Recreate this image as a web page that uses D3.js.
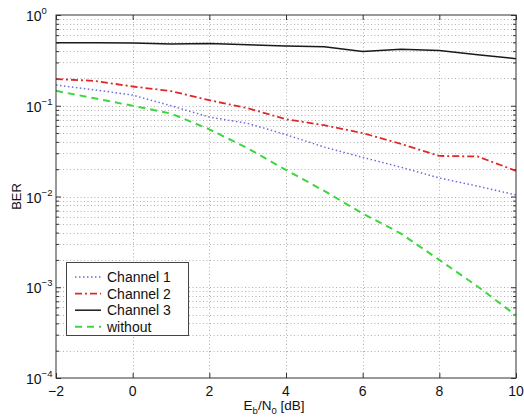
<!DOCTYPE html>
<html>
<head>
<meta charset="utf-8">
<script src="https://cdn.jsdelivr.net/npm/d3@7"></script>
<style>
  html, body { margin: 0; padding: 0; background: #fff; }
  svg { display: block; font-family: "Liberation Sans", Arial, Helvetica, sans-serif; }
</style>
</head>
<body>
<svg id="chart" width="524" height="420"></svg>
<script>
// Bit error rate versus Eb/N0 for three channels and the uncoded reference
const ebn0 = [-2, -1, 0, 1, 2, 3, 4, 5, 6, 7, 8, 9, 10];
const channel1 = [0.169, 0.150, 0.131, 0.100, 0.075, 0.064, 0.048, 0.035, 0.027, 0.021, 0.016, 0.013, 0.0104];
const channel2 = [0.197, 0.188, 0.163, 0.145, 0.115, 0.094, 0.071, 0.061, 0.050, 0.038, 0.028, 0.0276, 0.0192];
const channel3 = [0.495, 0.495, 0.49, 0.48, 0.485, 0.47, 0.455, 0.448, 0.395, 0.42, 0.405, 0.365, 0.33];
const without = [0.146, 0.121, 0.100, 0.082, 0.055, 0.034, 0.0196, 0.0115, 0.0065, 0.0039, 0.0020, 0.00102, 0.00049];

const seriesNames = ["Channel 1", "Channel 2", "Channel 3", "without"];
const xTicks = [-2, 0, 2, 4, 6, 8, 10];
const yExponents = [0, -1, -2, -3, -4];

const series = [
  { name: seriesNames[0], values: channel1, color: "#6b6bdc", dash: "1.5,2.5", width: 1.5 },
  { name: seriesNames[1], values: channel2, color: "#e02828", dash: "7,3,2,3", width: 1.8 },
  { name: seriesNames[2], values: channel3, color: "#1a1a1a", dash: null, width: 1.5 },
  { name: seriesNames[3], values: without, color: "#3ed63e", dash: "7,5", width: 2 }
];

const margin = { left: 56, right: 8, top: 15, bottom: 42 };
const W = 524, H = 420;
const svg = d3.select("#chart");

const x = d3.scaleLinear().domain([-2, 10]).range([margin.left, W - margin.right]);
const y = d3.scaleLog().domain([1e-4, 1]).range([H - margin.bottom, margin.top]);

// minor values 1..9 per decade
const yAll = [];
for (let e = -4; e < 0; e++) for (let k = 1; k <= 9; k++) yAll.push(k * Math.pow(10, e));
yAll.push(1);
const yMajor = yExponents.map(e => Math.pow(10, e));
const yMinor = yAll.filter(v => !yMajor.some(m => Math.abs(m - v) / m < 1e-9));

// grid
const grid = svg.append("g").attr("stroke", "#b0b0b0").attr("stroke-width", 1).attr("stroke-dasharray", "1,2.5");
grid.selectAll("line.h").data(yAll.filter(v => v > 1e-4 && v < 1)).join("line")
  .attr("x1", x(-2)).attr("x2", x(10))
  .attr("y1", d => Math.round(y(d)) + 0.5).attr("y2", d => Math.round(y(d)) + 0.5);
grid.selectAll("line.v").data(xTicks.filter(v => v > -2 && v < 10)).join("line")
  .attr("x1", d => Math.round(x(d)) + 0.5).attr("x2", d => Math.round(x(d)) + 0.5)
  .attr("y1", y(1)).attr("y2", y(1e-4));

// axes with inward ticks
const axisColor = "#333";
function styleAxis(g) {
  g.select(".domain").remove();
  g.selectAll(".tick line").attr("stroke", axisColor);
  g.selectAll(".tick text").remove();
}
svg.append("g").attr("transform", `translate(0,${y(1e-4)})`)
  .call(d3.axisBottom(x).tickValues(xTicks).tickSize(-5)).call(styleAxis);
svg.append("g").attr("transform", `translate(0,${y(1)})`)
  .call(d3.axisTop(x).tickValues(xTicks).tickSize(-5)).call(styleAxis);
svg.append("g").attr("transform", `translate(${x(-2)},0)`)
  .call(d3.axisLeft(y).tickValues(yMajor).tickSize(-5)).call(styleAxis);
svg.append("g").attr("transform", `translate(${x(-2)},0)`)
  .call(d3.axisLeft(y).tickValues(yMinor).tickSize(-3)).call(styleAxis);
svg.append("g").attr("transform", `translate(${x(10)},0)`)
  .call(d3.axisRight(y).tickValues(yMajor).tickSize(-5)).call(styleAxis);
svg.append("g").attr("transform", `translate(${x(10)},0)`)
  .call(d3.axisRight(y).tickValues(yMinor).tickSize(-3)).call(styleAxis);

// curves
const line = d3.line().x((d, i) => x(ebn0[i])).y(d => y(d));
const plot = svg.append("g");
series.forEach(s => {
  plot.append("path").datum(s.values)
    .attr("fill", "none")
    .attr("stroke", s.color)
    .attr("stroke-width", s.width)
    .attr("stroke-dasharray", s.dash)
    .attr("d", line);
});

// frame
svg.append("rect")
  .attr("x", x(-2)).attr("y", y(1))
  .attr("width", x(10) - x(-2)).attr("height", y(1e-4) - y(1))
  .attr("fill", "none").attr("stroke", axisColor).attr("stroke-width", 1);

// x tick labels
svg.append("g").selectAll("text").data(xTicks).join("text")
  .attr("x", d => x(d)).attr("y", y(1e-4) + 18)
  .attr("text-anchor", "middle").attr("font-size", 14).attr("fill", "#111")
  .text(d => d < 0 ? "\u2212" + Math.abs(d) : d);

// y tick labels as powers of ten
const yl = svg.append("g").selectAll("text").data(yExponents).join("text")
  .attr("x", 26).attr("y", d => y(Math.pow(10, d)) + 6)
  .attr("font-size", 14).attr("fill", "#111");
yl.append("tspan").text("10");
yl.append("tspan").attr("dy", -7).attr("font-size", 9.5)
  .text(d => d < 0 ? "\u2212" + Math.abs(d) : d);

// axis titles
svg.append("text")
  .attr("transform", `translate(21,${(y(1) + y(1e-4)) / 2}) rotate(-90)`)
  .attr("text-anchor", "middle").attr("font-size", 13).attr("fill", "#111")
  .text("BER");
const xt = svg.append("text")
  .attr("x", (x(-2) + x(10)) / 2 - 12).attr("y", 410)
  .attr("text-anchor", "middle").attr("font-size", 13.5).attr("fill", "#111");
xt.append("tspan").text("E");
xt.append("tspan").attr("dy", 4).attr("font-size", 9.5).text("b");
xt.append("tspan").attr("dy", -4).text("/N");
xt.append("tspan").attr("dy", 4).attr("font-size", 9.5).text("0");
xt.append("tspan").attr("dy", -4).text(" [dB]");

// legend
const lg = svg.append("g");
lg.append("rect").attr("x", 66.5).attr("y", 262.5).attr("width", 122).attr("height", 73)
  .attr("fill", "#fff").attr("stroke", "#444").attr("stroke-width", 1);
series.forEach((s, i) => {
  const yy = 277 + i * 16.6;
  lg.append("line").attr("x1", 75).attr("x2", 101).attr("y1", yy).attr("y2", yy)
    .attr("stroke", s.color).attr("stroke-width", s.width).attr("stroke-dasharray", s.dash);
  lg.append("text").attr("x", 107).attr("y", yy + 5)
    .attr("font-size", 14).attr("fill", "#111").text(s.name);
});
</script>
</body>
</html>
